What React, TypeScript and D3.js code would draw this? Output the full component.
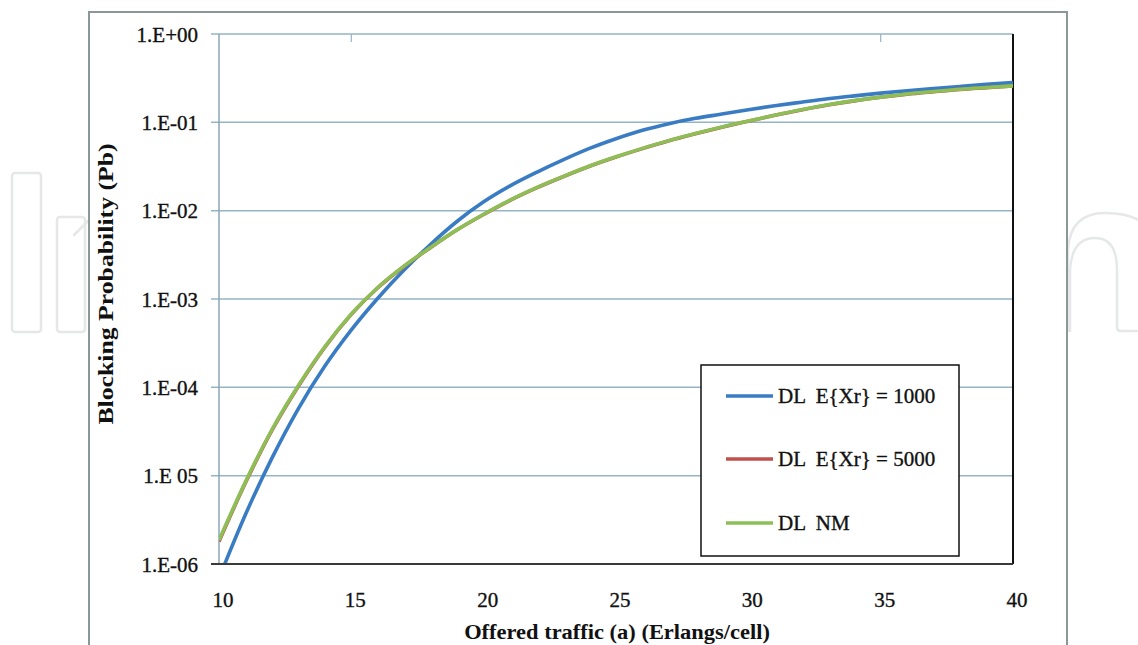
import React from "react";
import * as d3 from "d3";

// ---- data ----
const traffic = [10, 11, 12, 13, 14, 15, 16, 17, 18, 19, 20, 21, 22, 23, 24, 25, 26, 27, 28, 29, 30, 31, 32, 33, 34, 35, 36, 37, 38, 39, 40];

const dlXr1000 = [6.92e-7, 3.63e-6, 1.58e-5, 5.75e-5, 1.74e-4, 4.47e-4, 1.02e-3, 2.14e-3, 4.17e-3, 7.59e-3, 1.26e-2, 1.91e-2, 2.72e-2, 3.76e-2, 5.07e-2, 6.53e-2, 8.13e-2, 9.66e-2, 0.111, 0.124, 0.139, 0.154, 0.169, 0.185, 0.1995, 0.214, 0.228, 0.241, 0.255, 0.269, 0.282];

const dlXr5000 = [1.8e-6, 8.3e-6, 3.25e-5, 1.03e-4, 2.85e-4, 6.7e-4, 1.34e-3, 2.35e-3, 3.83e-3, 6.07e-3, 9.05e-3, 1.31e-2, 1.81e-2, 2.42e-2, 3.18e-2, 4.05e-2, 5.04e-2, 6.18e-2, 7.42e-2, 8.8e-2, 0.103, 0.12, 0.138, 0.157, 0.175, 0.192, 0.208, 0.222, 0.236, 0.247, 0.258];

const dlNM = [1.86e-6, 8.51e-6, 3.31e-5, 1.047e-4, 2.88e-4, 6.76e-4, 1.35e-3, 2.37e-3, 3.85e-3, 6.1e-3, 9.12e-3, 1.318e-2, 1.82e-2, 2.43e-2, 3.2e-2, 4.07e-2, 5.07e-2, 6.21e-2, 7.46e-2, 8.85e-2, 0.1035, 0.1205, 0.139, 0.158, 0.176, 0.193, 0.209, 0.223, 0.237, 0.248, 0.259];

const xTicks = [10, 15, 20, 25, 30, 35, 40];
const topTicks = [15, 35];
const yTicks = [1, 1e-1, 1e-2, 1e-3, 1e-4, 1e-5, 1e-6];
const yTickLabels = ["1.E+00", "1.E-01", "1.E-02", "1.E-03", "1.E-04", "1.E 05", "1.E-06"];

const seriesNames = ["DL  E{Xr} = 1000", "DL  E{Xr} = 5000", "DL  NM"];
const seriesColors = ["#3a7cc3", "#c0504d", "#8dbf56"];
const seriesValues = [dlXr1000, dlXr5000, dlNM];

const W = 1138;
const H = 645;
const plot = { left: 219, right: 1013, top: 34, bottom: 564 };

const SERIF = '"Liberation Serif", "Times New Roman", serif';

export default function App() {
  const x = d3.scaleLinear().domain([10, 40]).range([plot.left, plot.right]);
  const y = d3.scaleLog().domain([1e-6, 1]).range([plot.bottom, plot.top]);

  const line = (vals: number[]) =>
    d3
      .line<number>()
      .x((_, i) => x(traffic[i]))
      .y((v) => y(v))
      .curve(d3.curveMonotoneX)(vals) as string;

  const gridColor = "#95b5c5";
  const wm = "#e6e8e8";
  const txt = { fontFamily: SERIF, whiteSpace: "pre" as const };

  const legend = { x: 701, y: 365, w: 258, h: 191 };
  const legendRows = [396, 459, 523].map((v) => v - legend.y);

  return (
    <svg
      width={W}
      height={H}
      style={{ position: "absolute", left: 0, top: 0, background: "#fff", fontFamily: SERIF }}
    >
      <defs>
        <clipPath id="plotClip">
          <rect x={plot.left} y={plot.top - 4} width={plot.right - plot.left} height={plot.bottom - plot.top + 4} />
        </clipPath>
      </defs>

      {/* watermark */}
      <g fill="none" stroke={wm} strokeWidth={2.5}>
        <rect x={12} y={173} width={29} height={159} rx={3} />
        <rect x={57} y={217} width={28} height={115} rx={3} />
        <line x1={74} y1={235} x2={90} y2={219} strokeLinecap="round" />
        <path d="M1068,332 L1068,250 Q1070,213 1105,213 Q1138,213 1150,230" />
        <path d="M1070,332 L1070,270 Q1072,238 1095,238 Q1117,238 1117,270 L1117,328 Q1117,331 1121,331 L1140,331" />
      </g>

      {/* outer frame */}
      <rect x={89} y={12} width={978} height={660} fill="#fff" stroke="#8c9797" strokeWidth={2} />

      {/* gridlines */}
      {yTicks.slice(0, 6).map((t, i) => (
        <line key={i} x1={plot.left - 8} x2={plot.right} y1={y(t)} y2={y(t)} stroke={gridColor} strokeWidth={1.5} />
      ))}
      {topTicks.map((t, i) => (
        <line key={i} x1={x(t)} x2={x(t)} y1={plot.top} y2={plot.top + 8} stroke={gridColor} strokeWidth={1.2} />
      ))}
      {/* left axis */}
      <line x1={plot.left} x2={plot.left} y1={plot.top} y2={plot.bottom} stroke="#8ba6b4" strokeWidth={1.5} />
      {/* right border */}
      <line x1={plot.right} x2={plot.right} y1={plot.top} y2={plot.bottom} stroke="#111" strokeWidth={2} />

      {/* series */}
      <g clipPath="url(#plotClip)" fill="none" strokeWidth={3.6} strokeLinejoin="round">
        {seriesValues.map((vals, i) => (
          <path key={i} d={line(vals)} stroke={seriesColors[i]} />
        ))}
      </g>

      {/* bottom axis */}
      <line x1={plot.left - 8} x2={plot.right} y1={plot.bottom} y2={plot.bottom} stroke="#3a3a3a" strokeWidth={2} />

      {/* y tick labels */}
      {yTicks.map((t, i) => (
        <text key={i} x={198} y={y(t) + 7.5} textAnchor="end" fontSize={21} fill="#111" stroke="#111" strokeWidth={0.35} style={txt}>
          {yTickLabels[i]}
        </text>
      ))}

      {/* x tick labels */}
      {xTicks.map((t, i) => (
        <text key={i} x={x(t) + 4} y={607} textAnchor="middle" fontSize={21} fill="#111" stroke="#111" strokeWidth={0.35} style={txt}>
          {t}
        </text>
      ))}

      {/* axis titles */}
      <text
        transform="translate(617,639) scale(1.07,1)"
        textAnchor="middle"
        fontSize={21}
        fontWeight="bold"
        fill="#111"
        style={txt}
      >
        Offered traffic (a) (Erlangs/cell)
      </text>
      <text
        transform="translate(113,284) rotate(-90) scale(1.17,1)"
        textAnchor="middle"
        fontSize={22}
        fontWeight="bold"
        fill="#111"
        style={txt}
      >
        Blocking Probability (Pb)
      </text>

      {/* legend */}
      <g transform={`translate(${legend.x},${legend.y})`}>
        <rect width={legend.w} height={legend.h} fill="#fff" stroke="#111" strokeWidth={1.5} />
        {seriesNames.map((n, i) => (
          <g key={i} transform={`translate(0,${legendRows[i]})`}>
            <line x1={25} x2={72} y1={0} y2={0} stroke={seriesColors[i]} strokeWidth={3.6} />
            <text x={77} y={7} fontSize={21} fill="#111" stroke="#111" strokeWidth={0.35} style={txt}>
              {n}
            </text>
          </g>
        ))}
      </g>
    </svg>
  );
}
